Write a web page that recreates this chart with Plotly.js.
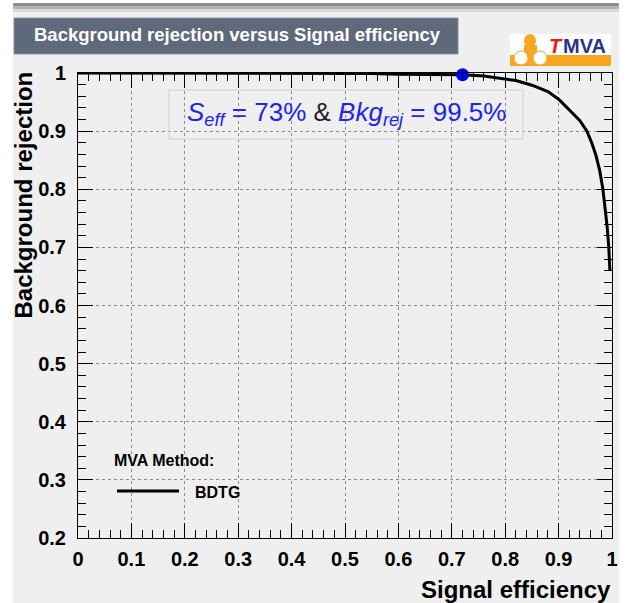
<!DOCTYPE html>
<html>
<head>
<meta charset="utf-8">
<script src="https://cdn.plot.ly/plotly-3.0.1.min.js"></script>
<style>html,body{margin:0;padding:0;background:#fff;}#chart{width:631px;height:603px;}</style>
</head>
<body>
<div id="chart"></div>
<script>
// ROC curve data (signal efficiency vs background rejection)
var sigEff = [0, 0.1, 0.2, 0.3, 0.4, 0.5, 0.55, 0.6, 0.65, 0.7, 0.72, 0.76, 0.79, 0.82, 0.85, 0.88, 0.9, 0.92, 0.94, 0.953, 0.962, 0.97, 0.977, 0.983, 0.987, 0.991, 0.994, 0.996];
var bkgRej = [1.0, 1.0, 1.0, 1.0, 0.9995, 0.999, 0.999, 0.998, 0.998, 0.997, 0.997, 0.995, 0.991, 0.987, 0.979, 0.968, 0.955, 0.937, 0.918, 0.90, 0.88, 0.858, 0.832, 0.80, 0.77, 0.735, 0.70, 0.661];
var wpEff = [0.72];
var wpRej = [0.997];
var methodName = 'BDTG';
var titleText = 'Background rejection versus Signal efficiency';
var xTitle = 'Signal efficiency';
var yTitle = 'Background rejection';

// layout helpers: convert page pixels to paper coordinates
var L = 78, R = 19, T = 73, B = 65, W = 631, H = 603;
var PW = W - L - R, PH = H - T - B;
function px(x) { return (x - L) / PW; }
function py(y) { return (H - B - y) / PH; }

var boldFont = {family: 'Liberation Sans, Arial, sans-serif', weight: 'bold', color: 'black'};
function f(size, extra) { var o = Object.assign({}, boldFont, {size: size}); return Object.assign(o, extra || {}); }

var traces = [
  {x: sigEff, y: bkgRej, type: 'scatter', mode: 'lines', name: methodName,
   line: {color: 'black', width: 3}, cliponaxis: false, showlegend: false},
  {x: wpEff, y: wpRej, type: 'scatter', mode: 'markers', name: 'working point',
   marker: {color: '#0000ff', size: 13}, cliponaxis: false, showlegend: false}
];

var shapes = [
  // canvas
  {type: 'rect', xref: 'paper', yref: 'paper', x0: px(13), x1: px(619), y0: py(3), y1: py(603), fillcolor: '#efefef', line: {width: 0}, layer: 'below'},
  {type: 'rect', xref: 'paper', yref: 'paper', x0: px(13), x1: px(619), y0: py(3), y1: py(6), fillcolor: '#8e8e8e', line: {width: 0}, layer: 'below'},
  {type: 'rect', xref: 'paper', yref: 'paper', x0: px(13), x1: px(619), y0: py(6), y1: py(9), fillcolor: '#b4b4b4', line: {width: 0}, layer: 'below'},
  {type: 'rect', xref: 'paper', yref: 'paper', x0: px(13), x1: px(619), y0: py(9), y1: py(12), fillcolor: '#d8d8d8', line: {width: 0}, layer: 'below'},
  // title box
  {type: 'rect', xref: 'paper', yref: 'paper', x0: px(14), x1: px(458), y0: py(18), y1: py(54), fillcolor: '#5e6a7b', line: {color: '#8a93a0', width: 1}, layer: 'below'},
  // TMVA logo
  {type: 'rect', xref: 'paper', yref: 'paper', x0: px(510), x1: px(611), y0: py(34), y1: py(66), fillcolor: '#ffffff', line: {width: 0}, layer: 'below'},
  {type: 'rect', xref: 'paper', yref: 'paper', x0: px(510), x1: px(611), y0: py(55), y1: py(66), fillcolor: '#f6a623', line: {width: 0}, layer: 'below'},
  {type: 'circle', xref: 'paper', yref: 'paper', x0: px(524), x1: px(536), y0: py(34), y1: py(47), fillcolor: '#f6a623', line: {width: 0}, layer: 'below'},
  {type: 'rect', xref: 'paper', yref: 'paper', x0: px(524), x1: px(537), y0: py(45), y1: py(58), fillcolor: '#f6a623', line: {width: 0}, layer: 'below'},
  {type: 'circle', xref: 'paper', yref: 'paper', x0: px(514), x1: px(528), y0: py(51), y1: py(65), fillcolor: '#ffffff', line: {color: '#f6a623', width: 1}, layer: 'below'},
  {type: 'circle', xref: 'paper', yref: 'paper', x0: px(533), x1: px(547), y0: py(51), y1: py(65), fillcolor: '#ffffff', line: {color: '#f6a623', width: 1}, layer: 'below'},
  // formula box
  {type: 'rect', xref: 'paper', yref: 'paper', x0: px(169), x1: px(523), y0: py(90), y1: py(139), fillcolor: 'rgba(0,0,0,0)', line: {color: '#dadada', width: 1.5}},
  // legend line sample
  {type: 'line', xref: 'paper', yref: 'paper', x0: px(117), x1: px(179), y0: py(491), y1: py(491), line: {color: 'black', width: 3}}
];

var annotations = [
  {xref: 'paper', yref: 'paper', x: px(237), y: py(35), text: titleText, showarrow: false,
   font: f(18.5, {color: 'white'}), xanchor: 'center', yanchor: 'middle'},
  {xref: 'paper', yref: 'paper', x: px(547), y: py(46), text: '<i>T</i>', showarrow: false,
   font: f(20, {color: '#ff1010'}), xanchor: 'left', yanchor: 'middle'},
  {xref: 'paper', yref: 'paper', x: px(561), y: py(46), text: 'MVA', showarrow: false,
   font: f(20, {color: '#28338a'}), xanchor: 'left', yanchor: 'middle'},
  {xref: 'paper', yref: 'paper', x: px(346), y: py(114),
   text: '<i>S</i><sub><i>eff</i></sub>&nbsp;= 73% <span style="color:#222">&amp;</span> <i>Bkg</i><sub><i>rej</i></sub>&nbsp;= 99.5%',
   showarrow: false, font: {family: 'Liberation Sans, Arial, sans-serif', size: 26, color: '#2222f5'},
   xanchor: 'center', yanchor: 'middle'},
  {xref: 'paper', yref: 'paper', x: px(112), y: py(460), text: 'MVA Method:', showarrow: false,
   font: f(16), xanchor: 'left', yanchor: 'middle'},
  {xref: 'paper', yref: 'paper', x: px(193), y: py(492), text: methodName, showarrow: false,
   font: f(16), xanchor: 'left', yanchor: 'middle'},
  {xref: 'paper', yref: 'paper', x: px(613), y: py(589), text: xTitle, showarrow: false,
   font: f(24), xanchor: 'right', yanchor: 'middle'},
  {xref: 'paper', yref: 'paper', x: px(23), y: py(70), text: yTitle, showarrow: false, textangle: -90,
   font: f(24), xanchor: 'center', yanchor: 'top'}
];

var axisCommon = {
  showline: true, linecolor: 'black', linewidth: 1, mirror: 'ticks',
  ticks: 'inside', ticklen: 15, tickcolor: 'black', tickwidth: 1,
  showgrid: true, gridcolor: '#8c8c8c', griddash: 'dot', gridwidth: 1,
  zeroline: false, tickfont: f(20), dtick: 0.1, tick0: 0,
  minor: {ticks: 'inside', ticklen: 8, tickcolor: 'black', tickwidth: 1, dtick: 0.02, showgrid: false}
};

var layout = {
  width: W, height: H,
  margin: {l: L, r: R, t: T, b: B, pad: 0},
  paper_bgcolor: '#ffffff', plot_bgcolor: '#ffffff',
  showlegend: false,
  xaxis: Object.assign({}, axisCommon, {range: [0, 1], ticklabelstandoff: 3}),
  yaxis: Object.assign({}, axisCommon, {range: [0.2, 1], ticklabelstandoff: 7}),
  shapes: shapes,
  annotations: annotations
};

Plotly.newPlot('chart', traces, layout, {displayModeBar: false, staticPlot: true});
</script>
</body>
</html>
